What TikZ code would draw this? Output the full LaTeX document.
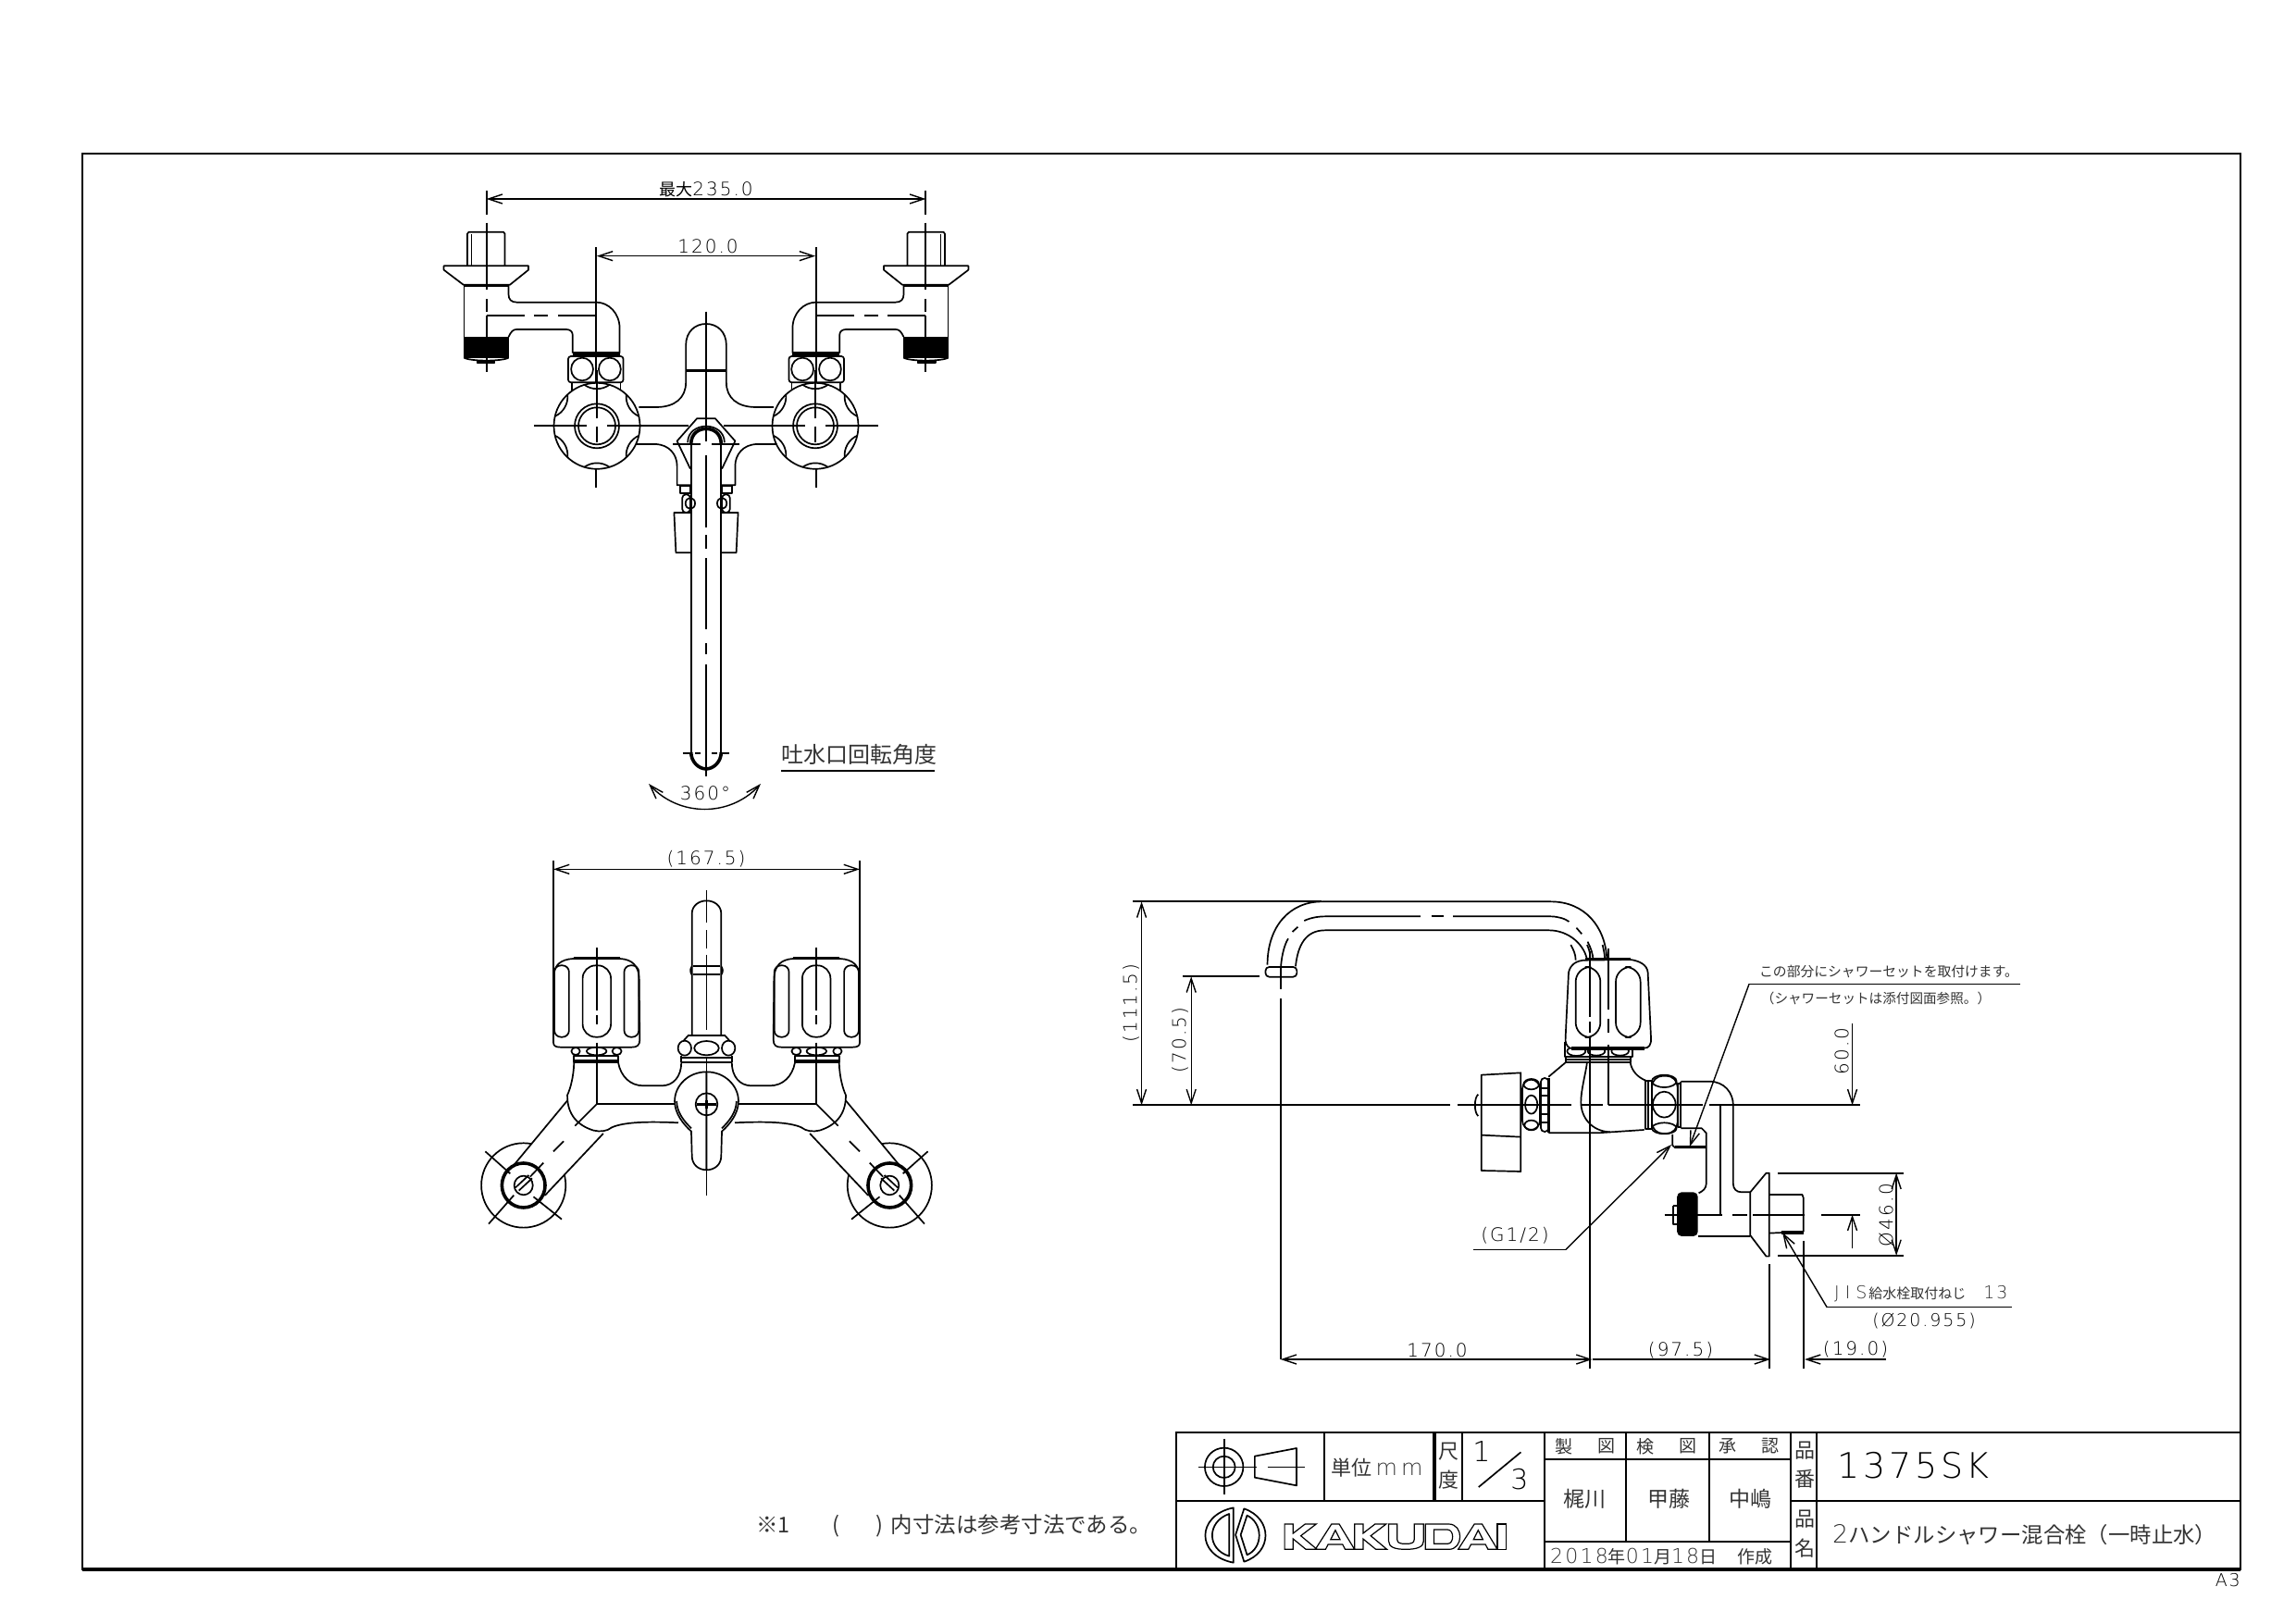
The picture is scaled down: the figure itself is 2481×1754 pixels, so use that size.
\documentclass[tikz,border=0pt]{standalone}
\usepackage{fontspec}
\usetikzlibrary{arrows.meta}
\newfontfamily\cadjp{Noto Sans CJK JP}
\newfontfamily\cadnum[LetterSpace=10]{DejaVu Sans ExtraLight}
\newcommand{\sizept}[1]{\fontsize{#1pt}{#1pt}\selectfont}

\tikzset{
  part/.style={line width=1.7pt,line join=round},
  heavy/.style={line width=3.6pt},
  dim/.style={line width=1.4pt,>={Straight Barb[length=15pt,width=10pt]}},
  frameline/.style={line width=1.7pt},
  numtext/.style={font=\cadnum\sizept{20},inner sep=0pt},
  jptext/.style={font=\cadjp\sizept{22},inner sep=0pt,text=black!80},
  topview/.style={x=0.3975pt,y=-0.3333pt},
  frontview/.style={x=0.359pt,y=-0.3333pt},
  spoutview/.style={x=0.346pt,y=-0.3333pt},
  sideview/.style={x=0.41pt,y=-0.3333pt},
  bodyview/.style={x=0.3333pt,y=-0.3333pt},
  logoview/.style={x=0.4608pt,y=-0.3333pt}
}

\begin{document}
\begin{tikzpicture}[x=1pt,y=-1pt]
  \useasboundingbox (0,0) rectangle (2481,1754);
  \draw[frameline] (89,166) rectangle (2421,1696);

  % top view, left half and its mirror
  \foreach \flip in {1,-1}{
    \begin{scope}[shift={(763,180)},xscale=\flip,topview]
      \draw[part] (-649,322) -- (-649,218) -- (-645,212) -- (-551,212) -- (-547,218) -- (-547,322);
      \draw[part] (-638,322) -- (-638,218);
      \draw[part] (-713,322) -- (-483,322) -- (-483,335) -- (-533,383) -- (-660,383) -- (-713,335) -- cycle;
      \draw[heavy] (-660,385) -- (-535,385);
      \draw[part] (-658,385) -- (-658,620);
      \fill (-658,552) rectangle (-537,620);
      \draw[part] (-658,620) .. controls (-640,632) and (-555,632) .. (-537,620);
      \draw[part] (-623,630) rectangle (-575,636);
      \draw[part] (-537,385) -- (-537,415) .. controls (-537,430) and (-530,440) .. (-515,440) -- (-299,440)
        .. controls (-265,440) and (-235,475) .. (-235,525) -- (-235,605);
      \draw[part] (-537,552) .. controls (-530,535) and (-525,528) .. (-515,528) -- (-380,528)
        .. controls (-370,528) and (-363,535) .. (-363,545) -- (-363,605);
      \draw[heavy] (-363,606) -- (-235,606);
      \draw[part] (-597,484) -- (-493,484);
      \draw[part] (-467,484) -- (-430,484);
      \draw[part] (-403,484) -- (-299,484);
      \draw[part] (-299,262) -- (-299,720);
      \draw[part] (-299,745) -- (-299,815);
      \draw[part] (-299,868) -- (-299,1040);
      \draw[part] (-597,182) -- (-597,400);
      \draw[part] (-597,430) -- (-597,470);
      \draw[part] (-597,484) -- (-597,665);
      \draw[part,rounded corners=3pt] (-375,615) rectangle (-225,700);
      \draw[part] (-337,657) ellipse [x radius=30,y radius=37];
      \draw[part] (-262,657) ellipse [x radius=30,y radius=37];
      \draw[part] (-365,700) -- (-365,725);
      \draw[part] (-233,700) -- (-233,725);
      \draw[part] (-183,780) -- (-135,780) .. controls (-85,780) and (-55,750) .. (-55,700) -- (-55,580)
        .. controls (-55,535) and (-30,510) .. (0,510);
      \draw[heavy] (-55,662) -- (0,662);
      \draw[part] (-190,900) -- (-140,900) .. controls (-100,900) and (-79,935) .. (-79,970) -- (-79,1033) -- (-43,1033);
      \draw[part] (0,817) -- (-25,817) -- (-79,890) -- (-43,980);
      \draw[part] (-240,841) -- (-47,841);
      \draw[part] (-467,841) -- (-327,841);
      \draw[part] (-300,841) -- (-270,841);
      \draw[part] (-90,900) -- (-15,900);
      \draw[heavy] (-41,900) .. controls (-41,865) and (-20,850) .. (0,850);
      \draw[part] (-50,895) .. controls (-50,860) and (-25,842) .. (0,842);
      \draw[part] (-41,900) -- (-41,1899);
      \draw[heavy] (-41,1899) .. controls (-41,1930) and (-20,1953) .. (0,1953);
      \draw[part] (-63,1902) -- (-45,1902);
      \draw[part] (-30,1902) -- (-15,1902);
      \draw[part] (-70,1035) rectangle (-43,1060);
      \draw[part,rounded corners=4pt] (-65,1063) rectangle (-43,1122);
      \draw[part] (-43,1092) ellipse [x radius=13,y radius=18];
      \draw[part] (-43,1122) -- (-87,1122) -- (-82,1252) -- (-43,1252);
    \end{scope}
    \begin{scope}[shift={(763-\flip*118,460.3)},y=1pt]
      \draw[part,fill=white] (0,0) circle [radius=46.5];
      \foreach \a in {90,30,-30,-90,150,210}
        \draw[part] (\a-17:46.5) .. controls (\a-8:39) and (\a+8:39) .. (\a+17:46.5);
      \draw[part] (0,0) circle [radius=24];
      \draw[part] (0,0) circle [radius=20];
      \draw[part] (-67,0) -- (-11,0);
      \draw[part] (67,0) -- (11,0);
      \draw[part] (0,-18) -- (0,-1);
      \draw[part] (0,8) -- (0,60);
    \end{scope}
  }
  \begin{scope}[shift={(763,180)},topview]
    \draw[part] (0,470) -- (0,892);
    \draw[part] (0,935) -- (0,1170);
    \draw[part] (0,1195) -- (0,1240);
    \draw[part] (0,1270) -- (0,1500);
    \draw[part] (0,1545) -- (0,1581);
    \draw[part] (0,1614) -- (0,1977);
    \draw[part] (-597,78) -- (-597,155);
    \draw[part] (597,78) -- (597,155);
    \draw[dim,<->] (-597,105) -- (597,105);
    \draw[dim,<->] (-297,290) -- (297,290);
  \end{scope}
  \node[numtext] (topwidth) at (763,205) {{\cadjp\sizept{18}最大}235.0};
  \node[numtext] (topcentres) at (765,266) {120.0};
  \node[numtext] (swing) at (762,857) {360°};
  \node[jptext,font=\cadjp\sizept{24}] (swingnote) at (928,815) {吐水口回転角度};
  \draw[dim] (844,833) -- (1010,833);
  \draw[dim,<->] (701,847) .. controls (734,883) and (789,883) .. (822,847);

  % front view, left half and its mirror
  \foreach \flip in {1,-1}{
    \begin{scope}[shift={(763.5,900)},xscale=\flip,frontview]
      \draw[part] (-551,1143) ellipse [x radius=127,y radius=137];
      \draw[part,fill=white] (-419,868) -- (-586,1085) -- (-486,1175) -- (-311,975);
      \draw[part,fill=white] (-551,1143) ellipse [x radius=65,y radius=72];
      \draw[heavy] (-551,1143) ellipse [x radius=65,y radius=72];
      \draw[part] (-551,1143) ellipse [x radius=28,y radius=31];
      \draw[part] (-666,1033) -- (-591,1105);
      \draw[part] (-521,1180) -- (-436,1253);
      \draw[part] (-656,1268) -- (-580,1175);
      \draw[part] (-575,1150) -- (-535,1110);
      \draw[part] (-565,1160) -- (-525,1120);
      \draw[part] (-531,1115) -- (-491,1070);
      \draw[part] (-331,880) -- (-396,950);
      \draw[part] (-430,1000) -- (-461,1033);
      \draw[part] (-399,745) .. controls (-400,790) and (-410,830) .. (-419,850)
        .. controls (-420,900) and (-400,945) .. (-340,965) .. controls (-320,970) and (-300,968) .. (-285,955)
        .. controls (-250,938) and (-180,935) .. (-85,940);
      \draw[part] (-266,745) .. controls (-258,790) and (-230,820) .. (-190,820) -- (-135,820)
        .. controls (-100,820) and (-76,790) .. (-76,745);
      \draw[part] (-394,708) ellipse [x radius=13,y radius=12];
      \draw[part] (-331,708) ellipse [x radius=30,y radius=13];
      \draw[part] (-270,708) ellipse [x radius=14,y radius=12];
      \draw[part] (-399,722) rectangle (-266,745);
      \draw[part] (-399,737) -- (-266,737);
      \draw[part,fill=white] (-461,680) -- (-461,470) .. controls (-461,430) and (-440,410) .. (-401,408) -- (-261,408)
        .. controls (-225,410) and (-205,430) .. (-203,470) -- (-201,670) .. controls (-201,690) and (-210,695) .. (-225,695)
        -- (-440,695) .. controls (-455,695) and (-461,690) .. (-461,680) -- cycle;
      \draw[heavy] (-401,406) -- (-261,406);
      \draw[part,rounded corners=14pt] (-373,430) rectangle (-288,662);
      \draw[part,rounded corners=7pt] (-458,430) rectangle (-414,662);
      \draw[part,rounded corners=7pt] (-248,430) rectangle (-204,662);
      \draw[part] (-331,372) -- (-331,575);
      \draw[part] (-331,590) -- (-331,620);
      \draw[part] (-331,680) -- (-331,880) -- (-50,880);
      \draw[part] (-461,90) -- (-461,470);
      \draw[part] (-44,660) -- (-44,262) .. controls (-44,235) and (-22,220) .. (0,220);
      \draw[part] (-40,433) -- (0,433);
      \draw[part] (-40,460) -- (0,460);
      \draw[part] (-44,433) .. controls (-50,440) and (-50,453) .. (-44,460);
      \draw[part] (-56,658) -- (0,658);
      \draw[part] (-56,658) -- (-70,675);
      \draw[part] (-66,698) ellipse [x radius=20,y radius=24];
      \draw[part] (-76,730) -- (0,730);
      \draw[part] (-76,745) -- (0,745);
      \draw[part] (-76,722) -- (-76,745);
      \draw[part,fill=white] (0,775) .. controls (-55,775) and (-96,820) .. (-96,870) .. controls (-96,910) and (-70,945) .. (-46,968)
        -- (-44,1048) .. controls (-44,1075) and (-25,1093) .. (0,1093) -- cycle;
      \draw[part] (-90,870) .. controls (-90,905) and (-68,935) .. (-46,958);
    \end{scope}
  }
  \begin{scope}[shift={(763.5,900)},frontview]
    \draw[part] (0,698) ellipse [x radius=37,y radius=23];
    \draw[part] (0,880) ellipse [x radius=33,y radius=36];
    \draw[heavy] (-30,880) -- (30,880);
    \draw[heavy] (0,866) -- (0,894);
    \draw[part] (0,185) -- (0,290);
    \draw[part] (0,315) -- (0,375);
    \draw[part] (0,395) -- (0,640);
    \draw[part] (0,730) -- (0,850);
    \draw[part] (0,910) -- (0,970);
    \draw[part] (0,1000) -- (0,1065);
    \draw[part] (0,1090) -- (0,1175);
    \draw[dim,<->] (-461,118) -- (461,118);
  \end{scope}
  \node[numtext] (frontwidth) at (763,928) {(167.5)};

  % side view, spout
  \begin{scope}[shift={(1200,961)},spoutview]
    \draw[part] (490,245) .. controls (490,120) and (560,40) .. (660,40) -- (1375,40)
      .. controls (1480,40) and (1545,120) .. (1550,225);
    \draw[part] (578,250) .. controls (585,180) and (610,133) .. (670,133) -- (1370,133)
      .. controls (1430,133) and (1485,180) .. (1490,240);
    \draw[part] (532,250) .. controls (535,210) and (545,175) .. (555,160);
    \draw[part] (568,138) -- (585,122);
    \draw[part] (605,102) .. controls (625,92) and (650,88) .. (670,88) -- (968,88);
    \draw[part] (1002,88) -- (1040,88);
    \draw[part] (1070,88) -- (1375,88) .. controls (1395,88) and (1420,95) .. (1432,105);
    \draw[part] (1455,125) -- (1472,145);
    \draw[part] (1490,170) .. controls (1500,190) and (1507,210) .. (1507,230);
    \draw[part,rounded corners=4pt] (484,252) rectangle (582,284);
    \draw[part] (70,40) -- (660,40);
    \draw[part] (225,283) -- (465,283);
    \draw[part] (70,700) -- (1060,700);
    \draw[part] (1085,700) -- (1145,700);
    \draw[dim,<->] (97,40) -- (97,700);
    \draw[dim,<->] (252,283) -- (252,700);
    \draw[part] (532,250) -- (532,325);
    \draw[part] (532,355) -- (532,1524);
  \end{scope}
  \node[numtext,rotate=90] (sideheight) at (1222,1084) {(111.5)};
  \node[numtext,rotate=90] (outletheight) at (1275,1124) {(70.5)};

  % side view, handle and body
  \begin{scope}[shift={(1580,1021)},bodyview]
    \draw[part] (352,0) .. controls (360,15) and (368,30) .. (368,50);
    \draw[part] (405,0) .. controls (410,12) and (415,25) .. (415,40);
    \draw[part] (455,0) .. controls (458,15) and (462,28) .. (462,42);
    \draw[part] (52,485) .. controls (38,495) and (38,545) .. (52,555);
    \draw[part,fill=white] (62,422) -- (190,415) -- (190,735) -- (62,732) -- cycle;
    \draw[part] (62,617) -- (190,623);
    \draw[part,rounded corners=10pt] (195,437) rectangle (252,600);
    \draw[part] (224,452) ellipse [x radius=25,y radius=17];
    \draw[part] (224,518) ellipse [x radius=20,y radius=30];
    \draw[part] (224,585) ellipse [x radius=22,y radius=16];
    \draw[part,rounded corners=4pt] (255,432) rectangle (280,606);
    \draw[part] (255,465) -- (280,465);
    \draw[part] (255,490) -- (280,490);
    \draw[part] (255,550) -- (280,550);
    \draw[part] (255,575) -- (280,575);
    \draw[heavy] (281,432) -- (281,608);
    \draw[part] (337,380) -- (280,428);
    \draw[part] (280,610) -- (440,610) -- (590,600);
    \draw[part] (405,380) .. controls (400,420) and (385,470) .. (385,510) .. controls (385,560) and (420,605) .. (480,607);
    \draw[part] (545,382) .. controls (550,410) and (570,430) .. (595,440);
    \draw[part] (595,440) rectangle (615,598);
    \draw[part] (603,440) -- (603,598);
    \draw[part,fill=white,rounded corners=12pt] (615,425) rectangle (698,612);
    \draw[part] (655,442) ellipse [x radius=40,y radius=20];
    \draw[part] (655,518) ellipse [x radius=37,y radius=42];
    \draw[part] (655,595) ellipse [x radius=40,y radius=18];
    \draw[part] (698,450) rectangle (708,590);
    \draw[part] (370,345) ellipse [x radius=30,y radius=15];
    \draw[part] (435,345) ellipse [x radius=28,y radius=14];
    \draw[part] (512,345) ellipse [x radius=28,y radius=14];
    \draw[part] (332,315) -- (332,362) -- (552,362) -- (552,335);
    \draw[part] (337,362) rectangle (545,382);
    \draw[part] (337,372) -- (545,372);
    \draw[part,fill=white] (345,90) .. controls (350,65) and (370,50) .. (400,50) -- (545,48) .. controls (575,52) and (600,65) .. (602,90)
      -- (612,300) .. controls (614,325) and (605,335) .. (590,335) -- (350,335) .. controls (338,330) and (333,315) .. (335,300) -- cycle;
    \draw[heavy] (400,46) -- (547,46);
    \draw[heavy] (355,336) -- (590,336);
    \draw[part,rounded corners=16pt] (368,72) rectangle (448,300);
    \draw[part,rounded corners=16pt] (498,72) rectangle (578,300);
    \draw[part] (415,20) -- (415,235);
    \draw[part] (415,250) -- (415,285);
    \draw[part] (415,300) -- (415,1374);
    \draw[part] (475,12) -- (475,210);
    \draw[part] (475,240) -- (475,285);
    \draw[part] (475,325) -- (475,520);
    \draw[part] (0,520) -- (355,520);
    \draw[part] (385,520) -- (455,520);
    \draw[part] (475,520) -- (780,520);
  \end{scope}

  % side view, wall arm and dimensions
  \begin{scope}[shift={(1560,1001)},sideview]
    \draw[part] (625,503) -- (700,503) .. controls (740,503) and (763,540) .. (763,580) -- (763,835)
      .. controls (763,852) and (772,862) .. (785,862) -- (808,862);
    \draw[part] (808,862) -- (850,800) -- (858,800) -- (858,1070) -- (850,1070) -- (808,1002) -- cycle;
    \draw[part] (858,870) -- (945,870) -- (948,880) -- (948,990) -- (858,995);
    \draw[heavy] (890,993) -- (948,993);
    \draw[part] (625,655) -- (680,655) -- (692,670) -- (692,835) .. controls (692,850) and (682,860) .. (672,865);
    \draw[part] (603,675) -- (603,710) -- (610,718) -- (692,718);
    \draw[heavy] (610,716) -- (692,716);
    \fill[rounded corners=5pt] (615,862) rectangle (670,1005);
    \draw[part] (670,1005) -- (808,1005);
    \draw[part] (605,905) -- (605,965) -- (615,965);
    \draw[part] (605,905) -- (615,905);
    \draw[part] (625,503) -- (625,655);
    \draw[part] (700,580) -- (1098,580);
    \draw[part] (730,580) -- (730,935);
    \draw[part] (582,935) -- (733,935);
    \draw[part] (760,935) -- (800,935);
    \draw[part] (815,935) -- (950,935);
    \draw[part] (995,935) -- (1098,935);
    \draw[part] (880,800) -- (1213,800);
    \draw[part] (880,1068) -- (1213,1068);
    \draw[dim,<->] (1193,800) -- (1193,1068);
    \draw[dim,->] (1077,315) -- (1077,580);
    \draw[dim,->] (1077,1045) -- (1077,935);
    \draw[dim] (1520,187) -- (805,187);
    \draw[dim,->] (805,187) -- (648,715);
    \draw[dim] (78,1048) -- (322,1048);
    \draw[dim,->] (322,1048) -- (600,708);
    \draw[dim] (1498,1235) -- (1010,1235);
    \draw[dim,->] (1010,1235) -- (893,993);
    \draw[part] (858,1095) -- (858,1434);
    \draw[part] (949,1020) -- (949,1434);
  \end{scope}
  \node[numtext,rotate=90] (riserheight) at (1990,1136) {60.0};
  \node[numtext,rotate=90] (flangesize) at (2038,1313) {Ø46.0};
  \node[numtext] (threadlabel) at (1637,1335) {(G1/2)};
  \node[jptext,font=\cadjp\sizept{14.8}] (showernote) at (2041,1050) {この部分にシャワーセットを取付けます。};
  \node[jptext,font=\cadjp\sizept{14.6}] (showerref) at (2027,1079) {（シャワーセットは添付図面参照。）};
  \node[jptext,anchor=west,font=\cadjp\sizept{15}] (jisthread) at (1982,1398) {{\cadnum\sizept{19}J\hspace{6pt}I\hspace{6pt}S}\hspace{2pt}給水栓取付ねじ\hspace{19pt}{\cadnum\sizept{19}13}};
  \node[numtext,font=\cadnum\sizept{19}] (jissize) at (2079,1428) {(Ø20.955)};

  \begin{scope}[shift={(1360,1301)}]
    \draw[dim,<->] (23.7,168) -- (360.5,168);
    \draw[dim,->] (360.5,168) -- (553,168);
    \draw[dim,->] (678,168) -- (590,168);
  \end{scope}
  \node[numtext] (spoutreach) at (1553,1459) {170.0};
  \node[numtext] (wallreach) at (1816,1459) {(97.5)};
  \node[numtext] (threadlen) at (2005,1458) {(19.0)};

  % title block
  \draw[frameline] (1271,1548) rectangle (2421,1696);
  \draw[frameline] (1271,1622) -- (1669,1622);
  \draw[frameline] (1935,1622) -- (2421,1622);
  \draw[frameline] (1431,1548) -- (1431,1622);
  \draw[heavy] (1550,1548) -- (1550,1622);
  \draw[frameline] (1580,1548) -- (1580,1622);
  \draw[frameline] (1669,1548) -- (1669,1696);
  \draw[frameline] (1757,1548) -- (1757,1666);
  \draw[frameline] (1847,1548) -- (1847,1666);
  \draw[frameline] (1935,1548) -- (1935,1696);
  \draw[frameline] (1963,1548) -- (1963,1696);
  \draw[frameline] (1669,1577) -- (1935,1577);
  \draw[frameline] (1669,1666) -- (1935,1666);
  \draw[heavy] (89,1696) -- (2421,1696);

  \begin{scope}[shift={(1260,1541)},logoview]
    \draw[part] (136,133) ellipse [x radius=45,y radius=62];
    \draw[part] (136,133) ellipse [x radius=26,y radius=35];
    \draw[part] (75,133) -- (197,133);
    \draw[part] (136,42) -- (136,222);
    \draw[part] (208,98) -- (306,72) -- (306,193) -- (208,167) -- cycle;
    \draw[part] (190,133) -- (212,133);
    \draw[part] (238,133) -- (325,133);
    \draw[part] (733,198) -- (832,85);
    \draw[part] (158,265) .. controls (70,290) and (70,420) .. (158,443) -- cycle;
    \draw[part] (148,285) .. controls (95,310) and (95,400) .. (148,422) -- cycle;
    \draw[part] (183,268) .. controls (250,300) and (250,410) .. (183,440) -- (163,353) -- cycle;
    \draw[part] (190,290) .. controls (228,315) and (228,395) .. (190,418) -- (175,353) -- cycle;
    \foreach \pos in {278,442}{
      \begin{scope}[shift={(\pos,318)}]
        \draw[line width=1.2pt] (0,0) -- (20,0) -- (20,30) -- (48,0) -- (74,0) -- (38,38) -- (76,82) -- (50,82) -- (20,48) -- (20,82) -- (0,82) -- cycle;
      \end{scope}
    }
    \foreach \pos in {350,685}{
      \begin{scope}[shift={(\pos,318)}]
        \draw[line width=1.2pt] (38,0) -- (56,0) -- (92,82) -- (70,82) -- (64,66) -- (30,66) -- (24,82) -- (0,82) -- cycle;
        \draw[line width=1.2pt] (47,20) -- (58,50) -- (36,50) -- cycle;
      \end{scope}
    }
    \begin{scope}[shift={(522,318)}]
      \draw[line width=1.2pt] (0,0) -- (20,0) -- (20,50) .. controls (20,62) and (28,64) .. (40,64) .. controls (52,64) and (60,62) .. (60,50) -- (60,0) -- (82,0)
        -- (82,55) .. controls (82,75) and (65,82) .. (40,82) .. controls (15,82) and (0,75) .. (0,55) -- cycle;
    \end{scope}
    \begin{scope}[shift={(608,318)}]
      \draw[line width=1.2pt] (0,0) -- (55,0) .. controls (90,0) and (90,82) .. (55,82) -- (0,82) -- cycle;
      \draw[line width=1.2pt] (20,18) -- (52,18) .. controls (68,18) and (68,64) .. (52,64) -- (20,64) -- cycle;
    \end{scope}
    \draw[line width=1.2pt] (777,318) rectangle (797,400);
  \end{scope}

  \node[jptext,font=\cadjp\sizept{22}] (unitlabel) at (1488,1586) {単位{\cadnum\sizept{24}\,m\,m}};
  \node[jptext] (scalea) at (1565,1569) {尺};
  \node[jptext] (scaleb) at (1565,1599) {度};
  \node[numtext,font=\cadnum\sizept{30}] (scaletop) at (1601,1569) {1};
  \node[numtext,font=\cadnum\sizept{30}] (scalebot) at (1642,1599) {3};
  \node[jptext,font=\cadjp\sizept{19}] (drawna) at (1690,1563) {製};
  \node[jptext,font=\cadjp\sizept{19}] (drawnb) at (1736,1563) {図};
  \node[jptext,font=\cadjp\sizept{19}] (checka) at (1778,1563) {検};
  \node[jptext,font=\cadjp\sizept{19}] (checkb) at (1824,1563) {図};
  \node[jptext,font=\cadjp\sizept{19}] (approvea) at (1867,1563) {承};
  \node[jptext,font=\cadjp\sizept{19}] (approveb) at (1913,1563) {認};
  \node[jptext,font=\cadjp\sizept{23}] (drawnname) at (1712,1620) {梶川};
  \node[jptext,font=\cadjp\sizept{23}] (checkname) at (1803,1620) {甲藤};
  \node[jptext,font=\cadjp\sizept{23}] (approvename) at (1891,1620) {中嶋};
  \node[jptext,anchor=west,font=\cadjp\sizept{19}] (datelabel) at (1675,1682) {{\cadnum\sizept{22}2018}年{\cadnum\sizept{22}01}月{\cadnum\sizept{22}18}日\hspace{22pt}作成};
  \node[jptext] (codea) at (1950,1568) {品};
  \node[jptext] (codeb) at (1950,1598) {番};
  \node[jptext] (namea) at (1950,1642) {品};
  \node[jptext] (nameb) at (1950,1673) {名};
  \node[numtext,anchor=west,font=\cadnum\sizept{38}] (codeval) at (1985,1584) {1375SK};
  \node[jptext,anchor=west,font=\cadjp\sizept{23.4}] (nameval) at (1980,1659) {{\cadnum\sizept{27}2}ハンドルシャワー混合栓（一時止水）};
  \node[jptext,anchor=west,font=\cadjp\sizept{23.5}] (remark) at (817,1649) {※1\hspace{46pt}(\hspace{39pt})\hspace{8pt}内寸法は参考寸法である。};
  \node[numtext,anchor=east,font=\cadnum\sizept{19}] (papersize) at (2421,1708) {A3};
\end{tikzpicture}
\end{document}
